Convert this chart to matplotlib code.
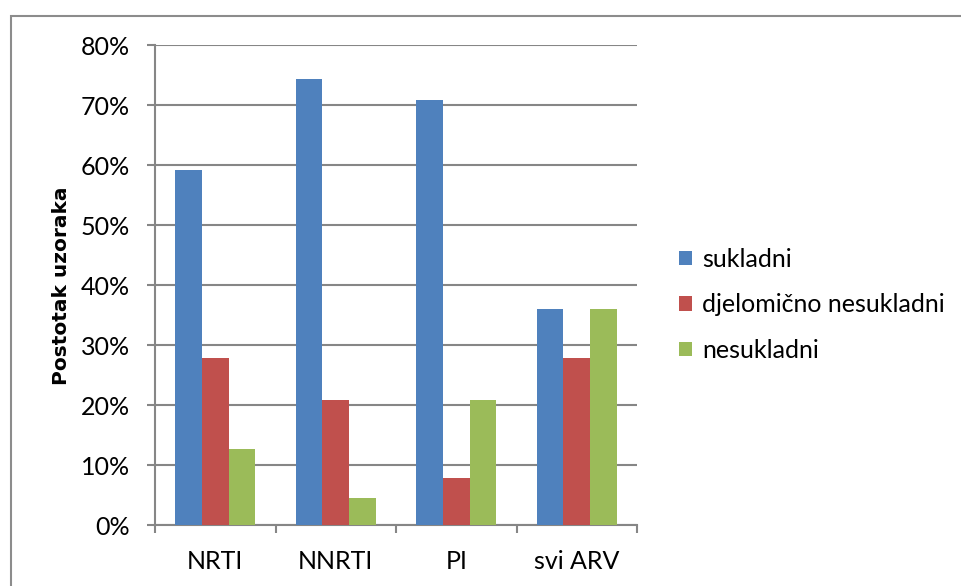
import matplotlib
matplotlib.use('Agg')
import matplotlib.pyplot as plt
import matplotlib.patches as mpatches
import numpy as np
from matplotlib.ticker import FuncFormatter

plt.rcParams['font.family'] = ['Lato', 'DejaVu Sans']

# data (percent of samples)
categories = ['NRTI', 'NNRTI', 'PI', 'svi ARV']
series_names = ['sukladni', 'djelomično nesukladni', 'nesukladni']
sukladni = [59.2, 74.4, 70.9, 36.1]
djelomicno = [27.9, 20.8, 7.9, 27.9]
nesukladni = [12.7, 4.6, 20.8, 36.1]
colours = ['#4F81BD', '#C0504D', '#9BBB59']

W, H = 962, 586
fig = plt.figure(figsize=(W / 100, H / 100), dpi=100)
# outer chart frame (runs off the right and bottom edge)
fig.patches.append(mpatches.Rectangle((10.5 / W, -0.1), 1.2, 1 - 15.5 / H + 0.1,
                                      transform=fig.transFigure, fill=False,
                                      edgecolor='#8C8C8C', lw=1.5))

ax = fig.add_axes([155 / W, 1 - 525.3 / H, 482 / W, 480 / H])
x = np.arange(len(categories))
bw = 1 / 4.5
for i, vals in enumerate([sukladni, djelomicno, nesukladni]):
    ax.bar(x + (i - 1) * bw, vals, width=bw, color=colours[i], label=series_names[i], zorder=3)

grid_c = '#868686'
fs = 18
ax.set_ylim(0, 80)
ax.set_xlim(-0.5, 3.5)
ax.set_yticks(range(0, 81, 10))
ax.yaxis.set_major_formatter(FuncFormatter(lambda v, p: '%d%%' % v))
ax.grid(axis='y', color=grid_c, lw=1.5, zorder=0)
ax.set_xticks(x)
ax.set_xticklabels(categories)
ax.set_xticks(np.arange(-0.5, 4, 1), minor=True)
ax.tick_params(axis='x', which='major', length=0, pad=18, labelsize=fs, colors='black')
ax.tick_params(axis='x', which='minor', length=6, width=1.5, color=grid_c, direction='out')
ax.tick_params(axis='y', length=6, width=1.5, color=grid_c, pad=12, labelsize=fs)
for s in ['top', 'right']:
    ax.spines[s].set_visible(False)
for s in ['left', 'bottom']:
    ax.spines[s].set_color(grid_c)
    ax.spines[s].set_linewidth(1.5)
ax.set_ylabel('Postotak uzoraka', fontsize=14.5, fontweight='bold',
              family=['DejaVu Sans'], labelpad=7)

fig.legend(loc='center left', bbox_to_anchor=(679 / W, 1 - 305 / H), frameon=False,
           fontsize=fs, handlelength=0.52, handleheight=0.52, handletextpad=0.4,
           labelspacing=0.9, borderpad=0, borderaxespad=0)

fig.savefig('out.png', dpi=100)
